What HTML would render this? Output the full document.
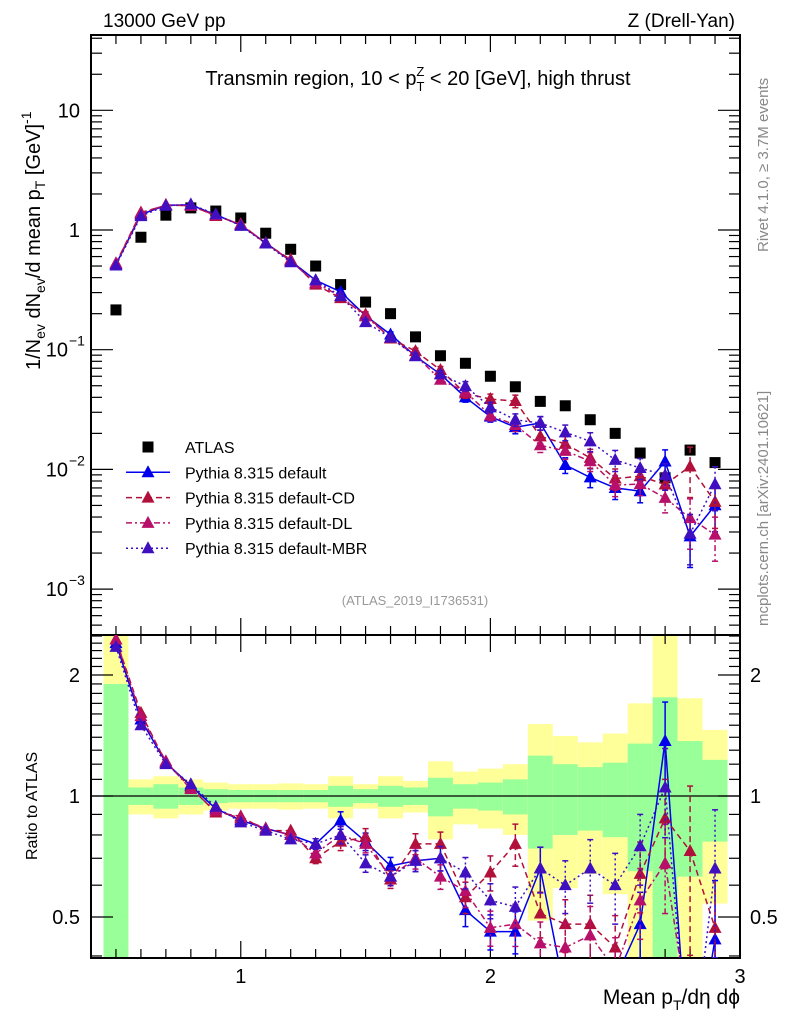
<!DOCTYPE html>
<html><head><meta charset="utf-8"><style>
html,body{margin:0;padding:0;background:#fff;overflow:hidden;width:786px;height:1024px}
svg{display:block;font-family:"Liberation Sans",sans-serif}
</style></head><body>
<svg id="chart" width="786" height="1024" viewBox="0 0 786 1024" xmlns="http://www.w3.org/2000/svg">
<defs>
<clipPath id="clipMain"><rect x="91" y="35" width="649" height="600"/></clipPath>
<clipPath id="clipRatio"><rect x="91" y="635" width="649" height="323"/></clipPath>
</defs>
<g id="bands" clip-path="url(#clipRatio)"></g>
<g id="axes"></g>
<g id="mainMarks" clip-path="url(#clipMain)"></g>
<g id="ratioMarks" clip-path="url(#clipRatio)"></g>
<g id="legend"></g>
<text x="103" y="27" font-size="19">13000 GeV pp</text>
<text x="735" y="27" font-size="19" text-anchor="end">Z (Drell-Yan)</text>
<text x="418" y="85" font-size="20" text-anchor="middle">Transmin region, 10 &lt; p<tspan font-size="13" dy="6">T</tspan><tspan font-size="13" dx="-8" dy="-15">Z</tspan><tspan dy="9"> &lt; 20 [GeV], high thrust</tspan></text>
<text transform="translate(40,370) rotate(-90)" font-size="20">1/N<tspan font-size="14" dy="5">ev</tspan><tspan dy="-5"> dN</tspan><tspan font-size="14" dy="5">ev</tspan><tspan dy="-5">/d mean p</tspan><tspan font-size="14" dy="5">T</tspan><tspan dy="-5"> [GeV]</tspan><tspan font-size="14" dy="-9">-1</tspan></text>
<text transform="translate(37,860) rotate(-90)" font-size="16">Ratio to ATLAS</text>
<text x="740" y="1004" font-size="21" text-anchor="end">Mean p<tspan font-size="14" dy="6">T</tspan><tspan dy="-6">/dη dϕ</tspan></text>
<text transform="translate(768,252) rotate(-90)" font-size="15" fill="#888">Rivet 4.1.0, ≥ 3.7M events</text>
<text transform="translate(768,626) rotate(-90)" font-size="15" fill="#888">mcplots.cern.ch [arXiv:2401.10621]</text>
<text x="415" y="605" font-size="13" fill="#999" text-anchor="middle">(ATLAS_2019_I1736531)</text>
</svg>
<script>
// ---- data ----
const xCenters = [0.5,0.6,0.7,0.8,0.9,1.0,1.1,1.2,1.3,1.4,1.5,1.6,1.7,1.8,1.9,2.0,2.1,2.2,2.3,2.4,2.5,2.6,2.7,2.8,2.9];
const atlasValues = [0.215,0.87,1.33,1.53,1.44,1.26,0.94,0.69,0.50,0.35,0.25,0.20,0.128,0.089,0.077,0.060,0.049,0.037,0.034,0.026,0.020,0.0137,0.0085,0.0145,0.0114];
const defaultRatio = [2.4,1.55,1.21,1.06,0.93,0.87,0.83,0.80,0.76,0.87,0.77,0.67,0.69,0.70,0.52,0.46,0.46,0.66,0.32,0.33,0.35,0.48,1.37,0.19,0.44];
const cdRatio = [2.45,1.61,1.21,1.05,0.91,0.89,0.82,0.82,0.70,0.77,0.79,0.62,0.76,0.76,0.56,0.645,0.76,0.51,0.48,0.48,0.42,0.64,0.88,0.73,0.47];
const dlRatio = [2.45,1.58,1.22,1.04,0.92,0.88,0.83,0.80,0.72,0.80,0.76,0.63,0.70,0.63,0.58,0.47,0.48,0.43,0.42,0.45,0.37,0.55,0.68,0.27,0.25];
const mbrRatio = [2.35,1.50,1.20,1.07,0.94,0.86,0.82,0.78,0.76,0.80,0.68,0.63,0.69,0.70,0.645,0.55,0.53,0.66,0.60,0.66,0.60,0.75,1.05,0.20,0.66];
const mcRelErr = [0.01,0.01,0.01,0.01,0.01,0.015,0.015,0.02,0.03,0.05,0.05,0.05,0.06,0.07,0.09,0.10,0.12,0.13,0.15,0.18,0.20,0.20,0.25,0.45,0.40];
const statBand = [0.9,0.05,0.07,0.05,0.04,0.035,0.035,0.035,0.035,0.06,0.04,0.06,0.05,0.11,0.07,0.08,0.10,0.26,0.20,0.18,0.21,0.35,0.76,0.37,0.23];
const totalBand = [1.6,0.10,0.12,0.10,0.08,0.07,0.07,0.075,0.07,0.12,0.07,0.12,0.09,0.22,0.15,0.17,0.20,0.51,0.41,0.36,0.43,0.70,1.60,0.75,0.46];
const xTickLabels = ["1","2","3"];
const mainTickLabels = ["10","1","10","10","10"];
const ratioTickLabels = ["2","1","0.5"];

// ---- axes ----
const NS="http://www.w3.org/2000/svg";
const L=91,R=740,T=35,MB=635,RB=958;
const X=v=>L+(v-0.4)*(R-L)/2.6;
const Y=v=>230-Math.log10(v)*119.7;
const YR=v=>796-Math.log10(v)*402;
const cl=(y,a,b)=>Math.min(Math.max(y,a),b);
function mk(tag,parent,attrs){const e=document.createElementNS(NS,tag);for(const k in attrs)e.setAttribute(k,attrs[k]);parent.appendChild(e);return e;}
const axes=document.getElementById('axes');
const bands=document.getElementById('bands');
const mm=document.getElementById('mainMarks');
const rm=document.getElementById('ratioMarks');
const leg=document.getElementById('legend');

// bands
xCenters.forEach((x,i)=>{
  const x0=X(x-0.05),w=X(x+0.05)-x0;
  const ty=cl(YR(1+totalBand[i]),MB,RB),by=cl(YR(Math.max(1-totalBand[i],0.01)),MB,RB);
  const r1=mk('rect',bands,{x:x0,y:ty,width:w,height:by-ty,fill:'#ffff99'});
  
  
  const gy=cl(YR(1+statBand[i]),MB,RB),gb=cl(YR(Math.max(1-statBand[i],0.01)),MB,RB);
  const r2=mk('rect',bands,{x:x0,y:gy,width:w,height:gb-gy,fill:'#99ff99'});
  
  
});
mk('line',axes,{x1:L,x2:R,y1:YR(1),y2:YR(1),stroke:'#000','stroke-width':1.3});

// frames
mk('rect',axes,{x:L,y:T,width:R-L,height:MB-T,fill:'none',stroke:'#000','stroke-width':2});
mk('rect',axes,{x:L,y:MB,width:R-L,height:RB-MB,fill:'none',stroke:'#000','stroke-width':2});
// x ticks
for(let k=5;k<=29;k++){
  const v=k/10,px=X(v),maj=(k%10===0),len=maj?17:9;
  [[T,1],[MB,-1],[MB,1],[RB,-1]].forEach(([y0,d])=>mk('line',axes,{x1:px,x2:px,y1:y0,y2:y0+d*len,stroke:'#000','stroke-width':1.2}));
}
[1,2,3].forEach((v,i)=>{const t=mk('text',axes,{x:X(v),y:983,'font-size':20,'text-anchor':'middle'});t.textContent=xTickLabels[i];

});
// main y ticks
for(let e=-4;e<=1;e++){for(let m=1;m<=9;m++){const v=m*Math.pow(10,e),py=Y(v);if(py<T||py>MB)continue;const len=m===1?22:11;
  mk('line',axes,{x1:L,x2:L+len,y1:py,y2:py,stroke:'#000','stroke-width':1.2});
  mk('line',axes,{x1:R,x2:R-len,y1:py,y2:py,stroke:'#000','stroke-width':1.2});}}
const decs=[1,0,-1,-2,-3];
decs.forEach((e,i)=>{const py=Y(Math.pow(10,e));
  const t=mk('text',axes,{x:e>=0?80:68,y:py+7,'font-size':20,'text-anchor':'end'});t.textContent=mainTickLabels[i];
  
  
  if(e<0){const s=mk('text',axes,{x:69,y:py-4,'font-size':14});s.textContent='−'+(-e);}
});
// ratio y ticks
[0.4,0.5,0.6,0.7,0.8,0.9,1,1.1,1.2,1.3,1.4,1.5,1.6,1.7,1.8,1.9,2,2.1,2.2,2.3,2.4,2.5].forEach(v=>{
  const py=YR(v);if(py<MB||py>RB)return;const maj=(v===0.5||v===1||v===2);const len=maj?22:11;
  mk('line',axes,{x1:L,x2:L+len,y1:py,y2:py,stroke:'#000','stroke-width':1.2});
  mk('line',axes,{x1:R,x2:R-len,y1:py,y2:py,stroke:'#000','stroke-width':1.2});});
[2,1,0.5].forEach((v,i)=>{const py=YR(v);
  const t=mk('text',axes,{x:80,y:py+7,'font-size':20,'text-anchor':'end'});t.textContent=ratioTickLabels[i];
  
  
  const t2=mk('text',axes,{x:750,y:py+7,'font-size':20});t2.textContent=ratioTickLabels[i];
  
  });

// ATLAS points
xCenters.forEach((x,i)=>{const r=mk('rect',mm,{x:X(x)-5.5,y:Y(atlasValues[i])-5.5,width:11,height:11,fill:'#000'});
  
  });

// segment clip in y
function clipPath(pts,y0,y1){
  let d='';
  for(let i=0;i<pts.length-1;i++){
    let [ax,ay]=pts[i],[bx,by]=pts[i+1];
    if((ay<y0&&by<y0)||(ay>y1&&by>y1))continue;
    const f=(yy)=>ax+(bx-ax)*(yy-ay)/(by-ay);
    let sx=ax,sy=ay,ex=bx,ey=by;
    if(sy<y0){sx=f(y0);sy=y0;} if(sy>y1){sx=f(y1);sy=y1;}
    if(ey<y0){ex=f(y0);ey=y0;} if(ey>y1){ex=f(y1);ey=y1;}
    d+=`M${sx.toFixed(1)},${sy.toFixed(1)}L${ex.toFixed(1)},${ey.toFixed(1)}`;
  }
  return d||'M0,0';
}

// MC series
const series=[
 {name:'default',ratio:defaultRatio,color:'#0000ee',dash:'',label:'Pythia 8.315 default'},
 {name:'default-cd',ratio:cdRatio,color:'#b0103a',dash:'6,4',label:'Pythia 8.315 default-CD'},
 {name:'default-dl',ratio:dlRatio,color:'#b8106a',dash:'6,3,2,3',label:'Pythia 8.315 default-DL'},
 {name:'default-mbr',ratio:mbrRatio,color:'#4010c0',dash:'2,3',label:'Pythia 8.315 default-MBR'}
];
function tri(g,cx,cy,c){const p=mk('polygon',g,{points:`${cx},${cy-7} ${cx-6.5},${cy+5} ${cx+6.5},${cy+5}`,fill:c});return p;}
series.forEach(s=>{
  const vals=s.ratio.map((r,i)=>r*atlasValues[i]);
  [[mm,v=>Y(v),vals,T,MB],[rm,v=>YR(v),s.ratio,MB,RB]].forEach(([g,fy,arr,y0,y1])=>{
    const pts=xCenters.map((x,i)=>[X(x),fy(arr[i])]);
    const pl=mk('path',g,{d:clipPath(pts,y0,y1),fill:'none',stroke:s.color,'stroke-width':1.5,'stroke-dasharray':s.dash});
    
    
    xCenters.forEach((x,i)=>{
      const v=arr[i],e=mcRelErr[i]*v,px=X(x);
      const top=fy(v+e),bot=fy(Math.max(v-e,1e-5)),cy=fy(v);
      if(bot<y0||top>y1)return;
      if(mcRelErr[i]>0.02){
        const ct=cl(top,y0,y1),cb=cl(bot,y0,y1);
        mk('line',g,{x1:px,x2:px,y1:ct,y2:cb,stroke:s.color,'stroke-width':1.5,'stroke-dasharray':s.dash});
        if(top>=y0)mk('line',g,{x1:px-3,x2:px+3,y1:top,y2:top,stroke:s.color,'stroke-width':1.5});
        if(bot<=y1)mk('line',g,{x1:px-3,x2:px+3,y1:bot,y2:bot,stroke:s.color,'stroke-width':1.5});
      }
      if(cy<y0-2||cy>y1+2)return;
      const t=tri(g,px,cy,s.color);
      
      
    });
  });
});

// legend
const ly0=447,ldy=25.3;
const sq=mk('rect',leg,{x:148-5.5,y:ly0-5.5,width:11,height:11,fill:'#000'});


const lt=mk('text',leg,{x:185,y:ly0+6,'font-size':16});lt.textContent='ATLAS';


series.forEach((s,k)=>{const y=ly0+ldy*(k+1);
  mk('line',leg,{x1:126,x2:170,y1:y,y2:y,stroke:s.color,'stroke-width':1.5,'stroke-dasharray':s.dash});
  tri(leg,148,y,s.color);
  const t=mk('text',leg,{x:185,y:y+6,'font-size':16});t.textContent=s.label;
  
  
});
</script>
</body></html>
